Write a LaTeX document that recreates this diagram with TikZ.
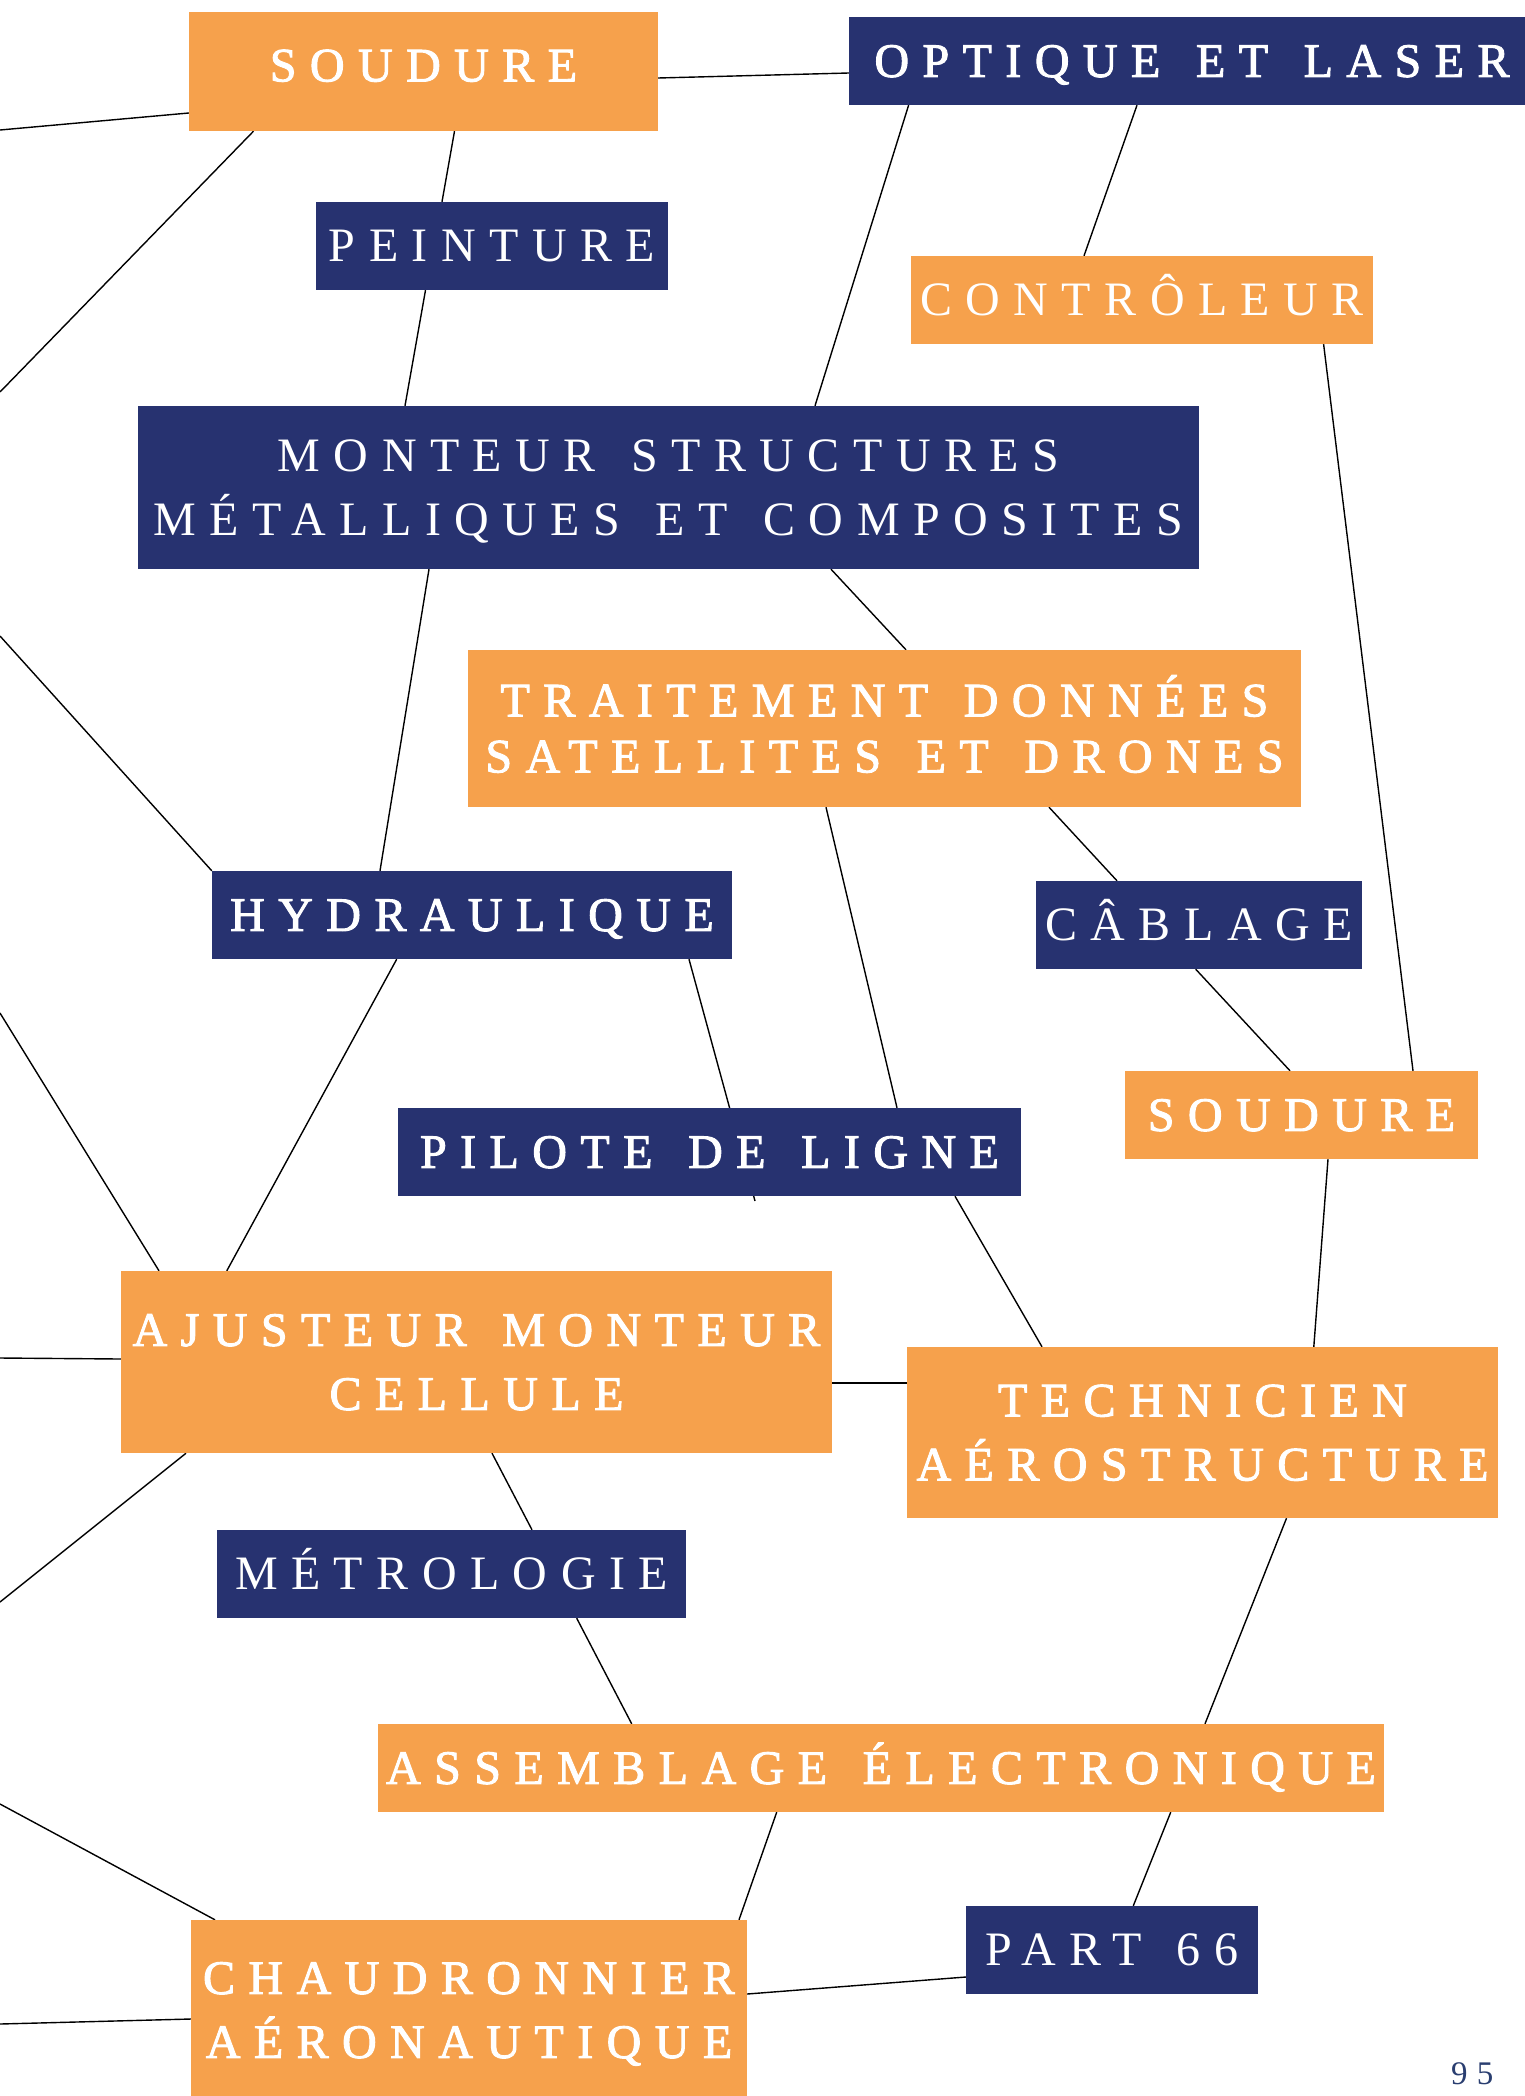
\documentclass[tikz,border=0pt]{standalone}
\usepackage{fontspec}
\usepackage{xcolor}
\usetikzlibrary{backgrounds}

\newfontfamily\lightcaps[LetterSpace=28,WordSpace=1.4]{Liberation Serif}
\newfontfamily\heavycaps[LetterSpace=28,WordSpace=1.4,FakeBold=2]{Liberation Serif}

\definecolor{tileorange}{RGB}{246,161,76}
\definecolor{tileblue}{RGB}{39,50,112}
\definecolor{folioblue}{RGB}{42,62,112}

\begin{document}
\begin{tikzpicture}[
    x=1pt, y=-1pt,
    tile/.style={rectangle, inner sep=0pt, text=white, align=center,
                 text height=31.8pt, text depth=0pt},
    orangetile/.style={tile, fill=tileorange},
    bluetile/.style={tile, fill=tileblue},
    heavy/.style={font=\heavycaps\fontsize{48}{64}\selectfont},
    light/.style={font=\lightcaps\fontsize{48}{64}\selectfont},
    twolines/.style={text height=31.8pt+#1},
    twolines/.default=64pt,
    boxsize/.style 2 args={minimum width=#1pt, minimum height=#2pt},
    link/.style={draw=black, line width=1.4pt}
]
\useasboundingbox (0,0) rectangle (1525,2096);

% Metiers
\node[orangetile, heavy, boxsize={469}{119}, text depth=12pt] (soudureA) at (423.5,71.5) {SOUDURE};
\node[bluetile, heavy, boxsize={686}{88}] (optique) at (1192,61) {OPTIQUE ET LASER};
\node[bluetile, light, boxsize={352}{88}] (peinture) at (492,246) {PEINTURE};
\node[orangetile, light, boxsize={462}{88}] (controleur) at (1142,300) {CONTRÔLEUR};
\node[bluetile, light, twolines, boxsize={1061}{163}] (monteur) at (668.5,487.5)
    {MONTEUR STRUCTURES\\MÉTALLIQUES ET COMPOSITES};
\node[orangetile, heavy, twolines=56pt, boxsize={833}{157},
      font=\heavycaps\fontsize{48}{56}\selectfont] (traitement) at (884.5,728.5)
    {TRAITEMENT DONNÉES\\SATELLITES ET DRONES};
\node[bluetile, heavy, boxsize={520}{88}] (hydraulique) at (472,915) {HYDRAULIQUE};
\node[bluetile, light, boxsize={326}{88}] (cablage) at (1199,925) {CÂBLAGE};
\node[orangetile, heavy, boxsize={353}{88}] (soudureB) at (1301.5,1115) {SOUDURE};
\node[bluetile, heavy, boxsize={623}{88}] (pilote) at (709.5,1152) {PILOTE DE LIGNE};
\node[orangetile, heavy, twolines, boxsize={711}{182}] (ajusteur) at (476.5,1362)
    {AJUSTEUR MONTEUR\\CELLULE};
\node[orangetile, heavy, twolines, boxsize={591}{171}] (technicien) at (1202.5,1432.5)
    {TECHNICIEN\\AÉROSTRUCTURE};
\node[bluetile, light, boxsize={469}{88}] (metrologie) at (451.5,1574) {MÉTROLOGIE};
\node[orangetile, heavy, boxsize={1006}{88}] (assemblage) at (881,1768) {ASSEMBLAGE ÉLECTRONIQUE};
\node[bluetile, light, boxsize={292}{88}] (partsix) at (1112,1950) {PART 66};
\node[orangetile, heavy, twolines, boxsize={556}{180}] (chaudronnier) at (469,2010)
    {CHAUDRONNIER\\AÉRONAUTIQUE};

% Folio
\node[anchor=base west, inner sep=0pt, text=folioblue,
      font=\lightcaps\fontsize{33}{36}\selectfont] (folio) at (1451,2084) {95};

% Free ends
\coordinate (edgeA) at (0,130);
\coordinate (edgeB) at (0,392);
\coordinate (edgeC) at (0,636);
\coordinate (edgeD) at (0,1013);
\coordinate (edgeE) at (0,1358);
\coordinate (edgeF) at (0,1602);
\coordinate (edgeG) at (0,1804);
\coordinate (edgeH) at (0,2024);
\coordinate (stub) at (755,1201);

\begin{pgfonlayer}{background}
\fill[white] (0,0) rectangle (1525,2096);

% Liens
\draw[link] (edgeA) -- ([yshift=-41.5pt]soudureA.west);
\draw[link] ([yshift=-6.5pt]soudureA.east) -- ([yshift=-12pt]optique.west);
\draw[link] ([xshift=-170pt]soudureA.south) -- (edgeB);
\draw[link] ([xshift=31pt]soudureA.south) -- ([xshift=-50pt]peinture.north);
\draw[link] ([xshift=-66.5pt]peinture.south) -- ([xshift=-263.5pt]monteur.north);
\draw[link] ([xshift=-283.4pt]optique.south) -- ([xshift=146.5pt]monteur.north);
\draw[link] ([xshift=-55pt]optique.south) -- ([xshift=-58pt]controleur.north);
\draw[link] ([xshift=181.6pt]controleur.south) -- ([xshift=111.5pt]soudureB.north);
\draw[link] ([xshift=162.5pt]monteur.south) -- ([xshift=21.5pt]traitement.north);
\draw[link] ([xshift=-239.5pt]monteur.south) -- ([xshift=-92pt]hydraulique.north);
\draw[link] (edgeC) -- (hydraulique.north west);
\draw[link] ([xshift=164.5pt]traitement.south) -- ([xshift=-82pt]cablage.north);
\draw[link] ([xshift=-3.3pt]cablage.south) -- ([xshift=-11.5pt]soudureB.north);
\draw[link] ([xshift=-58.5pt]traitement.south) -- ([xshift=187.5pt]pilote.north);
\draw[link] ([xshift=245.5pt]pilote.south) -- ([xshift=-160.5pt]technicien.north);
\draw[link] ([xshift=217pt]hydraulique.south) -- (stub);
\draw[link] ([xshift=-75.3pt]hydraulique.south) -- ([xshift=-249.7pt]ajusteur.north);
\draw[link] (edgeD) -- ([xshift=-317.5pt]ajusteur.north);
\draw[link] ([xshift=26.5pt]soudureB.south) -- ([xshift=111.3pt]technicien.north);
\draw[link] (edgeE) -- ([yshift=3pt]ajusteur.west);
\draw[link] ([yshift=-21pt]ajusteur.east) -- ([yshift=49.5pt]technicien.west);
\draw[link] ([xshift=-290.5pt]ajusteur.south) -- (edgeF);
\draw[link] ([xshift=15.5pt]ajusteur.south) -- ([xshift=80.5pt]metrologie.north);
\draw[link] ([xshift=125.2pt]metrologie.south) -- ([xshift=-249.3pt]assemblage.north);
\draw[link] ([xshift=84pt]technicien.south) -- ([xshift=324pt]assemblage.north);
\draw[link] ([xshift=289.7pt]assemblage.south) -- ([xshift=21.3pt]partsix.north);
\draw[link] ([xshift=-104.3pt]assemblage.south) -- ([xshift=270pt]chaudronnier.north);
\draw[link] (edgeG) -- ([xshift=-254pt]chaudronnier.north);
\draw[link] ([yshift=16pt]chaudronnier.east) -- ([yshift=-27pt]partsix.west);
\draw[link] (edgeH) -- ([yshift=-9pt]chaudronnier.west);
\end{pgfonlayer}

\end{tikzpicture}
\end{document}
